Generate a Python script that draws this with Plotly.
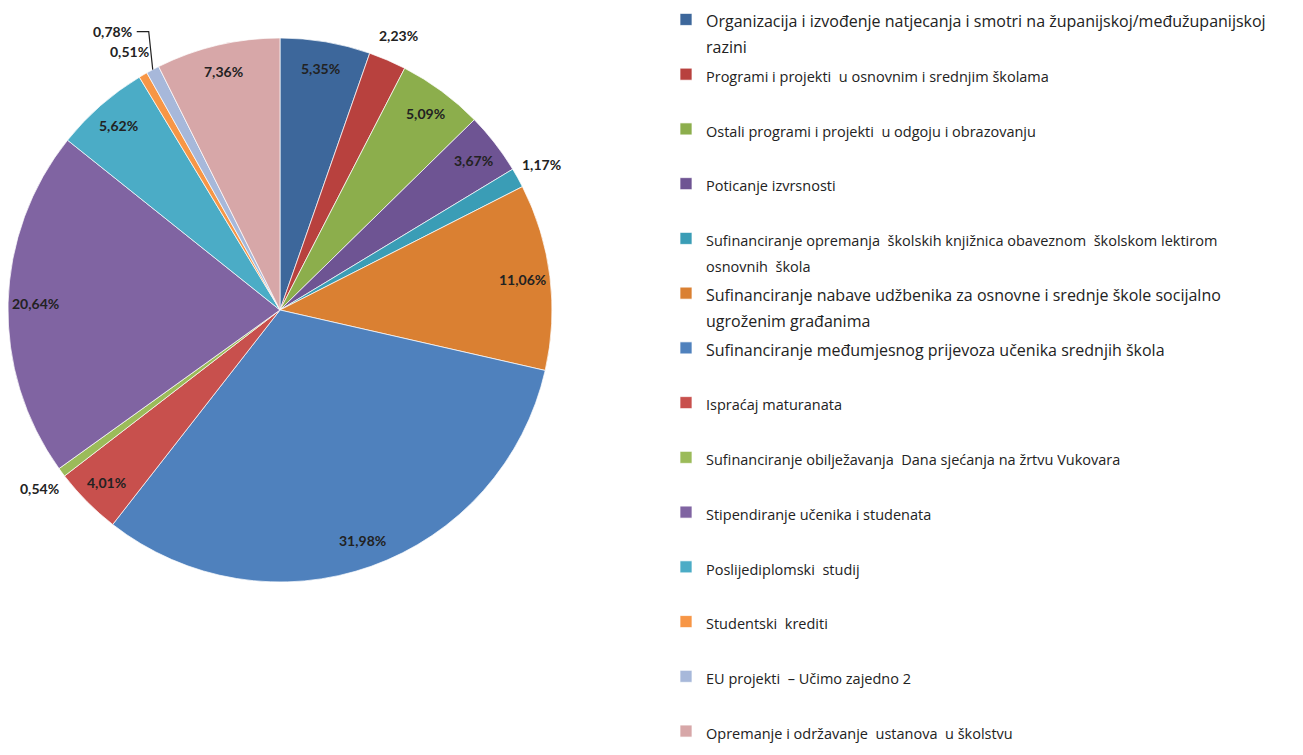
import math
import plotly.graph_objects as go

categories = [
    "Organizacija i izvođenje natjecanja i smotri na županijskoj/međužupanijskoj razini",
    "Programi i projekti  u osnovnim i srednjim školama",
    "Ostali programi i projekti  u odgoju i obrazovanju",
    "Poticanje izvrsnosti",
    "Sufinanciranje opremanja  školskih knjižnica obaveznom  školskom lektirom osnovnih  škola",
    "Sufinanciranje nabave udžbenika za osnovne i srednje škole socijalno ugroženim građanima",
    "Sufinanciranje međumjesnog prijevoza učenika srednjih škola",
    "Ispraćaj maturanata",
    "Sufinanciranje obilježavanja  Dana sjećanja na žrtvu Vukovara",
    "Stipendiranje učenika i studenata",
    "Poslijediplomski  studij",
    "Studentski  krediti",
    "EU projekti  – Učimo zajedno 2",
    "Opremanje i održavanje  ustanova  u školstvu",
]
values = [5.35, 2.23, 5.09, 3.67, 1.17, 11.06, 31.98, 4.01, 0.54, 20.64, 5.62, 0.51, 0.78, 7.36]
colors = ["#3D679B", "#B8413E", "#8CAE4C", "#6E5493", "#3A9DB6", "#DA8032", "#4F81BD",
          "#C8504D", "#9BBB59", "#8064A2", "#4BACC6", "#F79646", "#A7B8DA", "#D7A7A8"]
# legend line breaks (where the text wraps in the original)
wrap_after = {0: "županijskoj/međužupanijskoj ", 4: "lektirom ", 5: "socijalno "}
large_legend = {0, 5, 6}  # entries printed in a larger type in the original
outside = {1, 4, 8, 11}   # labels drawn outside the pie
leader = {12}             # label with a leader line

W, H = 1303, 840          # page shows the top 755 px
# pie domain in pixels
px_l, px_r, px_t, px_b = 8, 552, 37, 583
cx, cy = (px_l + px_r) / 2, (px_t + px_b) / 2
R = (px_r - px_l) / 2

NB = "\u00a0"
legend_labels = []
for i, c in enumerate(categories):
    size = 16 if i in large_legend else 14.5
    if i in wrap_after:
        key = wrap_after[i]
        a, b = c.split(key, 1)
        parts = [a + key.rstrip(), b]
    else:
        parts = [c]
    lines = [f'<span style="font-size:{size}px">{p}</span>' for p in parts]
    lines += [NB] * (2 - len(parts))
    legend_labels.append("<br>".join(lines))

fig = go.Figure()
fig.add_trace(go.Pie(
    labels=legend_labels,
    values=values,
    sort=False,
    direction="clockwise",
    rotation=0,
    textinfo="none",
    hovertext=categories,
    hoverinfo="text+percent",
    marker=dict(colors=colors, line=dict(color="rgba(255,255,255,0.7)", width=1)),
    domain=dict(x=[px_l / W, px_r / W], y=[1 - px_b / H, 1 - px_t / H]),
))

def to_paper(px, py):
    return px / W, 1 - py / H

total = sum(values)
cum = 0.0
annotations = []
shapes = []
for i, v in enumerate(values):
    mid = (cum + v / 2) / total * 2 * math.pi
    cum += v
    txt = f"{v:.2f}".replace(".", ",") + "%"
    s, c = math.sin(mid), math.cos(mid)
    if i in leader:
        ex, ey = cx + R * s, cy - R * c
        kx, ky = ex - 4, ey - 38
        tx, ty = kx - 12, ky
        p0 = to_paper(ex, ey); p1 = to_paper(kx, ky); p2 = to_paper(tx, ty)
        shapes.append(dict(type="path", xref="paper", yref="paper",
                           path=f"M{p0[0]},{p0[1]} L{p1[0]},{p1[1]} L{p2[0]},{p2[1]}",
                           line=dict(color="#222", width=1.2)))
        x, y = to_paper(tx - 3, ty)
        annotations.append(dict(x=x, y=y, xref="paper", yref="paper", text=f"<b>{txt}</b>",
                                showarrow=False, xanchor="right", yanchor="middle",
                                font=dict(family="Lato", size=14, color="#222")))
        continue
    r = 1.1 if i in outside else 0.9
    x, y = to_paper(cx + r * R * s, cy - r * R * c)
    annotations.append(dict(x=x, y=y, xref="paper", yref="paper", text=f"<b>{txt}</b>",
                            showarrow=False, xanchor="center", yanchor="middle",
                            font=dict(family="Lato", size=14, color="#222")))

fig.update_layout(
    width=W, height=H,
    margin=dict(l=0, r=0, t=0, b=0),
    paper_bgcolor="white",
    plot_bgcolor="white",
    showlegend=True,
    legend=dict(x=666 / W, y=1, xanchor="left", yanchor="top", valign="top",
                itemwidth=30, font=dict(family="Open Sans", size=19.9, color="#222"),
                bgcolor="rgba(0,0,0,0)"),
    annotations=annotations,
    shapes=shapes,
)

fig.write_html("out.html", config={"displayModeBar": False},
               post_script="document.body.style.margin='0';document.body.style.overflow='hidden';")
